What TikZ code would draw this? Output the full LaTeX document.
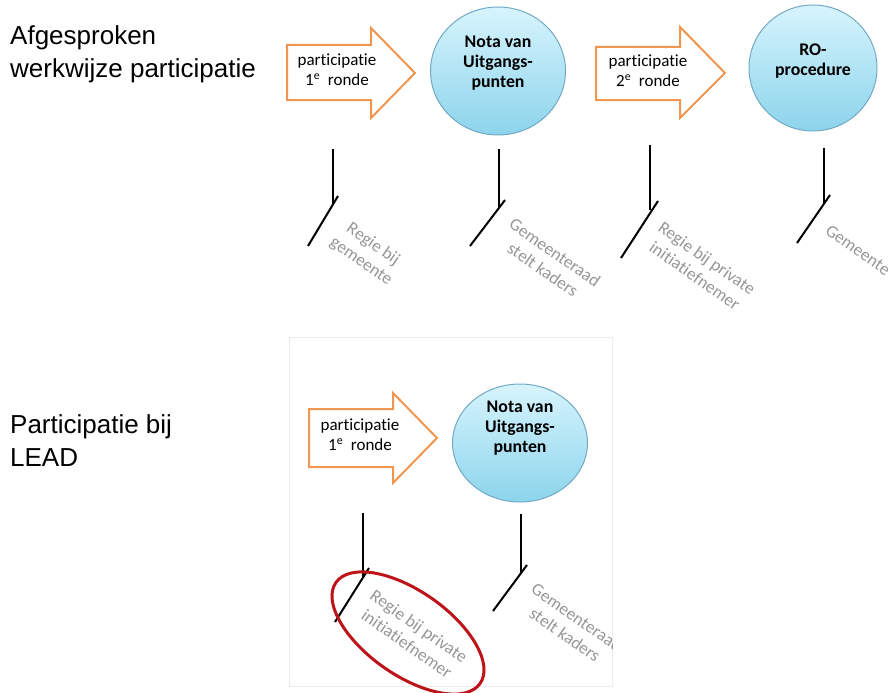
\documentclass[tikz,border=0pt]{standalone}
\usepackage{fontspec}
\setmainfont{Carlito}[Ligatures=NoCommon]
\newfontfamily\arialf{Liberation Sans}
\usetikzlibrary{shapes.geometric}
\definecolor{arrorange}{RGB}{240,150,80}
\definecolor{circtop}{RGB}{215,244,253}
\definecolor{circbot}{RGB}{140,212,236}
\definecolor{circline}{RGB}{115,170,195}
\definecolor{labgray}{RGB}{150,150,150}
\definecolor{ringred}{RGB}{190,20,25}
\definecolor{framegray}{RGB}{236,236,236}
\tikzset{
  arrowbox/.style={draw=arrorange, line width=2pt, fill=white, line join=miter},
  arrowtext/.style={align=center, inner sep=0pt, font=\fontsize{17}{20}\selectfont},
  circ/.style={ellipse, draw=circline, line width=1pt, top color=circtop, bottom color=circbot, inner sep=0pt},
  circtext/.style={align=center, inner sep=0pt, font=\bfseries\fontsize{17.8}{20}\selectfont},
  stem/.style={draw=black, line width=2pt},
  slantlab/.style={text=labgray, align=center, rotate=-35, inner sep=0pt, font=\fontsize{17.5}{21}\selectfont},
  sidelab/.style={anchor=west, align=left, inner sep=0pt, font=\arialf\fontsize{26}{33}\selectfont},
  ring/.style={ellipse, draw=ringred, line width=3pt, rotate=-35, inner sep=0pt}
}
\begin{document}
\begin{tikzpicture}[x=1pt,y=-1pt]
\useasboundingbox (0,0) rectangle (894,693);

% side labels
\node[sidelab] (s1) at (10,54) {Afgesproken\\werkwijze participatie};
\node[sidelab] (s2) at (10,441) {Participatie bij\\LEAD};

% ---------- top row ----------
\draw[arrowbox] (287,45) -- (371,45) -- (371,28) -- (415,73) -- (371,118) -- (371,100) -- (287,100) -- cycle;
\node[arrowtext] (a1) at (337,70) {participatie\\1\textsuperscript{e}\ \ ronde};

\node[circ, minimum width=135, minimum height=128] (c1) at (498,71) {};
\node[circtext] (c1t) at (498,63) {Nota van\\Uitgangs-\\punten};

\draw[arrowbox] (596,47) -- (680,47) -- (680,27) -- (725,73) -- (680,118) -- (680,100) -- (596,100) -- cycle;
\node[arrowtext] (a2) at (648,71) {participatie\\2\textsuperscript{e}\ \ ronde};

\node[circ, minimum width=128, minimum height=126] (c2) at (813,68) {};
\node[circtext] (c2t) at (813,61) {RO-\\procedure};

% stems top
\draw[stem] (333,149) -- (333,205);
\draw[stem] (338,196) -- (308,246);
\node[slantlab] (l1) at (367,253) {Regie bij\\gemeente};

\draw[stem] (499,149) -- (499,208);
\draw[stem] (505,200) -- (470,246);
\node[slantlab] (l2) at (549,261) {Gemeenteraad\\stelt kaders};

\draw[stem] (650,145) -- (650,210);
\draw[stem] (658,201) -- (621,258);
\node[slantlab] (l3) at (701,267) {Regie bij private\\initiatiefnemer};

\draw[stem] (824,148) -- (824,203);
\draw[stem] (830,195) -- (797,243);
\node[slantlab] (l4) at (858,250) {Gemeente};

% ---------- lower panel ----------
\draw[framegray, line width=0.8pt] (289,337) rectangle (612,686);

\draw[arrowbox] (309,409) -- (393,409) -- (393,393) -- (437,438) -- (393,483) -- (393,467) -- (309,467) -- cycle;
\node[arrowtext] (a3) at (360,435) {participatie\\1\textsuperscript{e}\ \ ronde};

\node[circ, minimum width=135, minimum height=118] (c3) at (520,443) {};
\node[circtext] (c3t) at (520,428) {Nota van\\Uitgangs-\\punten};

\draw[stem] (363,513) -- (363,578);
\draw[stem] (369,568) -- (335,622);
\node[slantlab] (l5) at (413,635) {Regie bij private\\initiatiefnemer};

\draw[stem] (521,514) -- (521,572);
\draw[stem] (527,565) -- (493,611);
\begin{scope}
\clip (289,337) rectangle (612,686);
\node[slantlab] (l6) at (571,626) {Gemeenteraad\\stelt kaders};
\end{scope}

\node[ring, minimum width=176, minimum height=84] (r1) at (408,633) {};
\end{tikzpicture}
\end{document}
